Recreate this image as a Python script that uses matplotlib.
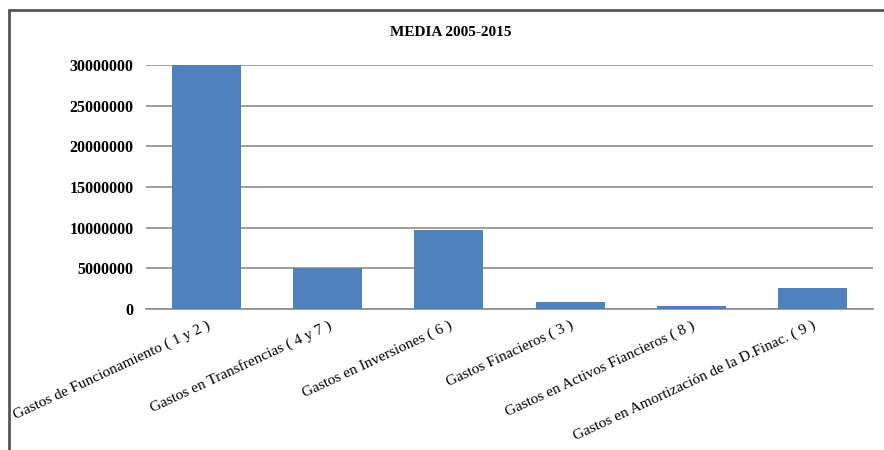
import matplotlib.pyplot as plt
from matplotlib.patches import Rectangle

categorias = ["Gastos de Funcionamiento ( 1 y 2 )",
              "Gastos en Transfrencias ( 4 y 7 )",
              "Gastos en Inversiones ( 6 )",
              "Gastos Finacieros ( 3 )",
              "Gastos en Activos Fiancieros ( 8 )",
              "Gastos en Amortización de la D.Finac. ( 9 )"]
media = [29950000, 5000000, 9750000, 860000, 330000, 2550000]
ticks_y = [0, 5000000, 10000000, 15000000, 20000000, 25000000, 30000000]

plt.rcParams['font.family'] = ['Liberation Serif', 'DejaVu Serif']

fig = plt.figure(figsize=(8.84, 4.5), dpi=100)
ax = fig.add_axes([146/884, 1-309/450, (873-146)/884, (309-65)/450])

x = list(range(len(categorias)))
ax.bar(x, media, width=0.57, color="#4F81BD", zorder=3)

ax.set_xlim(-0.5, len(categorias)-0.5)
ax.set_ylim(0, 30000000)
ax.set_yticks(ticks_y)
ax.set_yticklabels([str(v) for v in ticks_y], fontsize=11.5, fontweight='bold')
ax.yaxis.grid(True, color="#8c8c8c", linewidth=1.2, zorder=0)
ax.set_axisbelow(True)
ax.tick_params(axis='y', length=0, pad=9)
ax.tick_params(axis='x', length=0, pad=7)
ax.set_xticks(x)
ax.set_xticklabels(categorias, rotation=25, ha='right', rotation_mode='anchor',
                   fontsize=11)
for s in ['top', 'right', 'left']:
    ax.spines[s].set_visible(False)
ax.spines['bottom'].set_color("#8c8c8c")
ax.spines['bottom'].set_linewidth(1.2)

fig.text(451/884, 1-33/450, "MEDIA 2005-2015", ha='center', va='center',
         fontsize=11, fontweight='bold')

# marco del grafico (solo se ven arriba e izquierda)
fig.patches.append(Rectangle((9/884, -0.1), 1.2, 1-10/450+0.1,
                             transform=fig.transFigure, fill=False,
                             edgecolor="#555555", linewidth=2))

fig.savefig("out.png", dpi=100)
